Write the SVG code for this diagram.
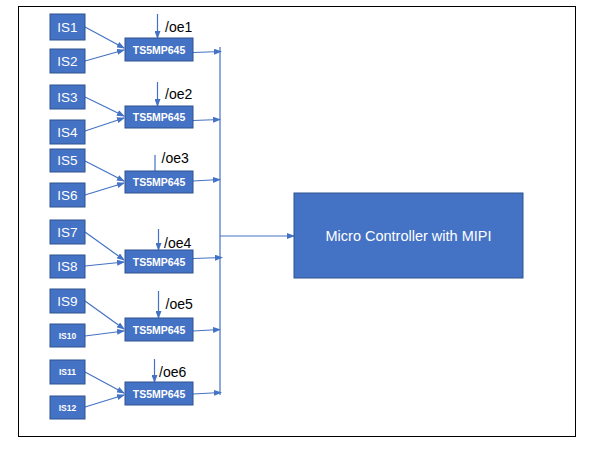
<svg xmlns="http://www.w3.org/2000/svg" width="595" height="453" viewBox="0 0 595 453">
<defs>
<marker id="ah" markerWidth="8" markerHeight="6" refX="7" refY="3" orient="auto" markerUnits="userSpaceOnUse">
<path d="M0,0 L8,3 L0,6 z" fill="#4472C4"/>
</marker>
<style>
.box{fill:#4472C4;stroke:#2F528F;stroke-width:1}
.t{fill:#fff;font-family:"Liberation Sans",Arial,sans-serif;text-anchor:middle;dominant-baseline:central}
.is{font-size:13.5px}
.iss{font-size:8.5px;font-weight:bold}
.ts{font-size:10.5px;font-weight:bold}
.oe{fill:#000;font-family:"Liberation Sans",Arial,sans-serif;font-size:14px}
.ln{stroke:#4472C4;stroke-width:1.2;fill:none}
.la{stroke:#4472C4;stroke-width:1.2;fill:none;marker-end:url(#ah)}
</style>
</defs>
<rect x="18.5" y="6.5" width="557" height="430" fill="#fff" stroke="#000" stroke-width="1"/>
<g id="connectors">
<line class="la" x1="85" y1="27" x2="124" y2="48"/>
<line class="la" x1="85" y1="61" x2="124" y2="50"/>
<line class="la" x1="85" y1="97" x2="124" y2="116"/>
<line class="la" x1="85" y1="131" x2="124" y2="118"/>
<line class="la" x1="85" y1="161" x2="124" y2="181"/>
<line class="la" x1="85" y1="195" x2="124" y2="183"/>
<line class="la" x1="85" y1="232" x2="124" y2="260"/>
<line class="la" x1="85" y1="266" x2="124" y2="262"/>
<line class="la" x1="85" y1="301" x2="124" y2="329"/>
<line class="la" x1="85" y1="336" x2="124" y2="331"/>
<line class="la" x1="85" y1="372" x2="124" y2="393"/>
<line class="la" x1="85" y1="407" x2="124" y2="395"/>
<line class="la" x1="157.5" y1="14" x2="157.5" y2="38"/>
<line class="la" x1="157.5" y1="82" x2="157.5" y2="106"/>
<line class="ln" x1="155" y1="155" x2="155" y2="171"/>
<line class="la" x1="158.5" y1="229" x2="158.5" y2="250"/>
<line class="la" x1="158.5" y1="291" x2="158.5" y2="318"/>
<line class="la" x1="154.5" y1="359" x2="154.5" y2="382"/>
<line class="la" x1="193" y1="52.5" x2="221" y2="51.5"/>
<line class="la" x1="193" y1="120.5" x2="220" y2="119.5"/>
<line class="la" x1="193" y1="181" x2="220" y2="179.5"/>
<line class="la" x1="193" y1="258.5" x2="222" y2="257.5"/>
<line class="la" x1="193" y1="331" x2="220" y2="329.5"/>
<line class="la" x1="193" y1="394" x2="221" y2="392.5"/>
<line class="ln" x1="220" y1="47" x2="220" y2="395"/>
<line class="la" x1="220" y1="236" x2="294" y2="236"/>
</g>
<g id="IS1"><rect class="box" x="50" y="14" width="35" height="26"/><text class="t is" x="67.5" y="27">IS1</text></g>
<g id="IS2"><rect class="box" x="50" y="49" width="35" height="24"/><text class="t is" x="67.5" y="61">IS2</text></g>
<g id="IS3"><rect class="box" x="50" y="85" width="35" height="24"/><text class="t is" x="67.5" y="97">IS3</text></g>
<g id="IS4"><rect class="box" x="50" y="120" width="35" height="24"/><text class="t is" x="67.5" y="132">IS4</text></g>
<g id="IS5"><rect class="box" x="50" y="149" width="35" height="23"/><text class="t is" x="67.5" y="160.5">IS5</text></g>
<g id="IS6"><rect class="box" x="50" y="183" width="35" height="24"/><text class="t is" x="67.5" y="195">IS6</text></g>
<g id="IS7"><rect class="box" x="50" y="220" width="35" height="24"/><text class="t is" x="67.5" y="232">IS7</text></g>
<g id="IS8"><rect class="box" x="50" y="255" width="35" height="23"/><text class="t is" x="67.5" y="266.5">IS8</text></g>
<g id="IS9"><rect class="box" x="50" y="289" width="35" height="24"/><text class="t is" x="67.5" y="301">IS9</text></g>
<g id="IS10"><rect class="box" x="50" y="324" width="35" height="23"/><text class="t iss" x="67.5" y="335.5">IS10</text></g>
<g id="IS11"><rect class="box" x="50" y="360" width="35" height="24"/><text class="t iss" x="67.5" y="372">IS11</text></g>
<g id="IS12"><rect class="box" x="50" y="396" width="35" height="23"/><text class="t iss" x="67.5" y="407.5">IS12</text></g>
<g id="TS1"><rect class="box" x="125" y="38" width="68" height="23"/><text class="t ts" x="159" y="49.5">TS5MP645</text></g>
<g id="TS2"><rect class="box" x="125" y="106" width="68" height="22"/><text class="t ts" x="159" y="117">TS5MP645</text></g>
<g id="TS3"><rect class="box" x="125" y="171" width="68" height="22"/><text class="t ts" x="159" y="182">TS5MP645</text></g>
<g id="TS4"><rect class="box" x="125" y="250" width="68" height="23"/><text class="t ts" x="159" y="261.5">TS5MP645</text></g>
<g id="TS5"><rect class="box" x="125" y="318" width="68" height="23"/><text class="t ts" x="159" y="329.5">TS5MP645</text></g>
<g id="TS6"><rect class="box" x="125" y="382" width="68" height="23"/><text class="t ts" x="159" y="393.5">TS5MP645</text></g>
<g id="MC"><rect class="box" x="294" y="193" width="229" height="85"/><text class="t" x="408.5" y="236" font-size="14.5">Micro Controller with MIPI</text></g>
<g id="labels">
<text class="oe" x="165" y="31.5">/oe1</text>
<text class="oe" x="165" y="99">/oe2</text>
<text class="oe" x="161.5" y="163">/oe3</text>
<text class="oe" x="164" y="248">/oe4</text>
<text class="oe" x="165.5" y="309">/oe5</text>
<text class="oe" x="159" y="376.5">/oe6</text>
</g>
</svg>
